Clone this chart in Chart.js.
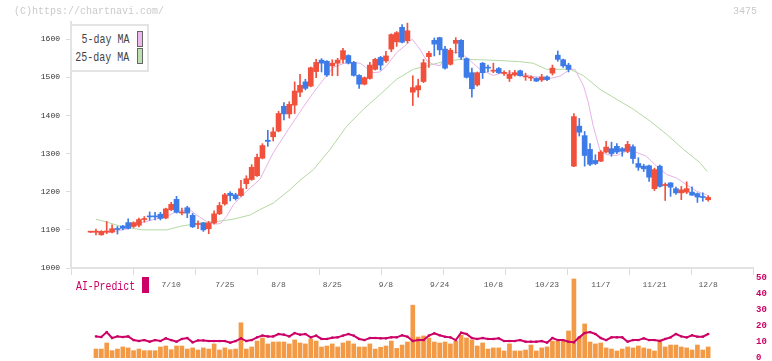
<!DOCTYPE html>
<html>
<head>
<meta charset="utf-8">
<script src="https://cdn.jsdelivr.net/npm/chart.js@4.4.0/dist/chart.umd.min.js"></script>
<style>
  html, body { margin: 0; padding: 0; background: #fff; }
  #wrap { position: relative; width: 772px; height: 361px; overflow: hidden; }
  #wrap canvas { position: absolute; left: 0; top: 0; }
  .txt { position: absolute; font-family: "Liberation Mono", "DejaVu Sans Mono", monospace; white-space: nowrap; }
  .sw { position: absolute; box-sizing: border-box; }
</style>
</head>
<body>
<div id="wrap">
  <canvas id="main" width="772" height="361"></canvas>
  <canvas id="sub" width="772" height="370"></canvas>

  <div class="txt" style="left:14px;top:6px;font-size:10px;color:#cacaca;">(C)https://chartnavi.com/</div>
  <div class="txt" style="right:15px;top:6px;font-size:10px;color:#cacaca;">3475</div>

  <!-- MA legend -->
  <div class="sw" style="left:70px;top:24px;width:79px;height:48px;border:2px solid #e4e4e4;background:#fff;"></div>
  <div class="txt" style="right:643px;top:33px;font-size:13px;line-height:13px;color:#444;transform:scaleX(0.767);transform-origin:right top;">5-day MA</div>
  <div class="txt" style="right:643px;top:51px;font-size:13px;line-height:13px;color:#444;transform:scaleX(0.767);transform-origin:right top;">25-day MA</div>
  <div class="sw" style="left:137px;top:31px;width:6px;height:16px;border:1px solid #666;background:#ebb9eb;"></div>
  <div class="sw" style="left:137px;top:48px;width:6px;height:16px;border:1px solid #666;background:#bde0b0;"></div>

  <!-- AI legend -->
  <div class="txt" style="left:76px;top:281px;font-size:12px;line-height:12px;color:#cc0066;transform:scaleX(0.82);transform-origin:left top;">AI-Predict</div>
  <div class="sw" style="left:142px;top:277px;width:7px;height:16px;background:#cc0066;"></div>
</div>

<script>
// DAILY PRICES (index 0 = first day shown)
const open = [1094,1094,1087,1094,1094,1103,1110,1119,1109,1112,1127,1136,1136,1141,1131,1153,1180,1144,1158,1138,
  1114,1118,1103,1118,1142,1168,1196,1192,1190,1221,1232,1242,1288,1335,1344,1359,1424,1404,1427,1461,
  1488,1477,1515,1545,1542,1530,1537,1547,1557,1539,1505,1482,1497,1521,1552,1543,1574,1593,1631,1596,
  1461,1467,1489,1554,1597,1604,1574,1534,1589,1597,1549,1512,1480,1537,1526,1516,1523,1510,1497,1506,
  1517,1501,1498,1497,1493,1501,1511,1558,1546,1532,1267,1372,1347,1311,1282,1280,1304,1313,1319,1313,
  1306,1318,1274,1267,1268,1208,1267,1216,1223,1208,1197,1199,1199,1195,1187,1179];
const high = [1095,1102,1098,1122,1113,1109,1112,1129,1121,1131,1135,1147,1146,1146,1157,1172,1188,1157,1162,1143,
  1124,1120,1122,1150,1172,1196,1200,1196,1230,1242,1271,1299,1326,1361,1368,1411,1434,1436,1488,1508,
  1495,1527,1547,1549,1544,1546,1550,1576,1559,1542,1507,1501,1539,1550,1555,1568,1614,1620,1638,1642,
  1504,1495,1547,1568,1603,1605,1581,1576,1604,1599,1551,1524,1514,1539,1532,1537,1526,1517,1518,1518,
  1519,1511,1504,1499,1508,1504,1532,1569,1548,1537,1405,1392,1358,1326,1297,1308,1332,1330,1326,1316,
  1332,1323,1289,1272,1270,1262,1270,1223,1224,1212,1214,1226,1213,1197,1197,1190];
const low = [1093,1087,1086,1090,1092,1089,1100,1102,1106,1108,1120,1125,1126,1126,1129,1150,1144,1139,1132,1106,
  1103,1096,1090,1115,1140,1165,1176,1178,1188,1208,1230,1240,1286,1319,1333,1357,1388,1393,1405,1449,
  1467,1475,1499,1514,1502,1504,1504,1537,1535,1503,1471,1480,1495,1519,1519,1539,1567,1581,1590,1590,
  1426,1448,1486,1526,1556,1559,1521,1532,1563,1547,1498,1448,1477,1497,1514,1512,1510,1505,1489,1503,
  1503,1492,1491,1489,1489,1491,1506,1542,1526,1514,1266,1346,1267,1268,1271,1279,1302,1293,1300,1293,
  1302,1274,1256,1253,1227,1203,1212,1177,1188,1193,1179,1195,1190,1172,1175,1175];
const close = [1094,1095,1096,1097,1103,1101,1104,1104,1119,1127,1129,1134,1134,1130,1155,1167,1146,1147,1144,1108,
  1116,1100,1118,1142,1164,1192,1190,1182,1208,1234,1264,1290,1321,1332,1357,1405,1404,1429,1464,1479,
  1471,1525,1539,1537,1506,1537,1545,1570,1537,1505,1482,1499,1532,1547,1532,1556,1612,1617,1592,1622,
  1473,1478,1538,1563,1587,1572,1524,1571,1597,1553,1500,1470,1512,1512,1524,1518,1512,1513,1508,1512,
  1504,1503,1500,1490,1501,1494,1524,1547,1530,1521,1397,1356,1295,1272,1274,1304,1317,1300,1304,1306,
  1324,1287,1264,1260,1238,1258,1214,1219,1212,1197,1205,1208,1191,1186,1185,1185];

// MOVING AVERAGES (day position, price)
const ma5Day = [0,3.6,6.7,9.2,12.3,14.2,16,18.5,19.7,21.6,23.5,24.3,25.3,26.6,29,31.5,34,36.8,39.5,41.5,
  43.4,45.2,47.7,50.2,51.7,52.6,53.9,55.1,57,58.5,59.9,61.3,62.6,63.8,65.1,65.7,66.9,68.8,70,72.5,
  75,76.2,78.7,82.4,85.5,87.4,89.3,90.2,91.8,92.7,93.6,94.9,96.1,98,99.8,101.1,103.5,105.4,107.3,109.1,
  111,112.9,114.7];
const ma5Val = [1094,1094,1102,1118,1129,1135,1148,1153,1139,1122,1115,1118,1135,1166,1201,1232,1302,1363,1420,1460,
  1495,1526,1539,1537,1521,1512,1514,1530,1565,1582,1600,1574,1543,1534,1530,1547,1565,1565,1552,1521,
  1505,1510,1512,1502,1497,1503,1521,1521,1477,1433,1372,1306,1297,1295,1306,1306,1293,1267,1245,1236,
  1218,1201,1192];
const ma25Day = [1,3.6,6.1,9.8,14.2,16.6,20.3,23.5,26.6,29.7,31.5,34,37.1,39,41.5,44.6,47.7,50.8,53.9,57,
  60.1,62.6,65.1,68.8,72.5,76.2,79.9,82.4,84.9,89.3,91.8,94.9,98,101.1,104.2,107.3,110.4,113.5,114.8];
const ma25Val = [1128,1118,1107,1100,1100,1109,1118,1122,1128,1139,1153,1170,1205,1230,1258,1311,1372,1416,1455,1495,
  1521,1530,1539,1547,1546,1544,1541,1537,1521,1521,1504,1468,1442,1416,1385,1350,1311,1276,1253];

// VOLUME AND AI-PREDICT (from day 1 on, right-axis units)
const volume = [5.6,5.6,9.4,4.6,5.6,6.9,6.3,4.6,5.6,4.6,4.6,4.6,6.9,7.5,5.2,7.5,7.5,5.6,6.3,5.0,
  6.3,5.6,8.8,5.0,6.3,5.2,5.6,22,5.6,6.9,10.6,12.5,8.8,10,10,10,8.8,11.3,9.4,8.8,
  11.9,10.6,6.9,7.5,8.8,6.9,9.4,10.6,8.8,6.9,6.9,8.8,5.6,6.7,7.5,10.6,6.0,8.1,10,33,
  13.1,13.8,12.5,10,9.4,10,8.8,10.6,14.2,12.5,11.3,7.5,9.4,5.6,6.3,6.3,4.4,8.8,4.4,4.4,
  5.0,8.1,4.4,6.3,6.9,10.6,10.6,10.6,16.9,49.4,13.1,21.3,10,8.8,9.4,6.3,5.6,4.4,5.6,6.9,
  6.3,7.5,6.3,5.6,4.4,11.3,6.9,8.1,8.1,6.9,6.3,5.0,8.1,5.0,6.9];
const aiPredict = [13.5,13.1,16.2,12.5,13.5,13.1,13.5,11.2,10.6,11.2,10.2,11.2,10.6,12.3,11.2,10.2,11.9,12.5,9.8,11.0,
  11.0,10.6,10.6,10.6,10.6,9.6,10.6,12.3,10.6,11.2,12.9,14.0,13.5,13.5,15.0,14.6,13.5,15.6,14.6,15.0,
  12.9,14.0,11.9,11.9,12.7,12.9,14.0,15.0,14.0,11.9,11.2,12.5,12.5,12.3,12.3,12.9,12.9,14.2,13.3,10.6,
  11.2,11.2,14.0,15.4,14.2,13.3,12.9,11.2,15.8,15.0,12.5,11.9,12.5,11.9,11.9,12.3,10.6,10.6,10.6,11.2,
  10.2,10.2,10.2,10.6,9.6,12.5,11.2,11.2,10.2,9.8,12.9,15.6,16.2,15.0,12.5,11.2,12.9,12.9,12.9,10.2,
  11.2,11.2,12.3,11.2,11.2,10.6,11.9,12.9,15.0,13.5,12.9,14.2,13.3,13.3,15.0];

// AXIS LABELS
const tickDates = ["7/10","7/25","8/8","8/25","9/8","9/24","10/8","10/23","11/7","11/21","12/8"];
const tickDays = [15,25,35,45,55,65,75,85,95,105,115];
const priceTicks = [1000,1100,1200,1300,1400,1500,1600];
const aiTicks = [0,10,20,30,40,50];

const UP = "#f0503c", DOWN = "#3d7be8";
const X_MIN = -3.65, X_MAX = 123.35;
const tickFont = { family: "Liberation Mono", size: 8 };

const candleColors = open.map((o, i) => (close[i] >= o ? UP : DOWN));

// MAIN PRICE CHART
new Chart(document.getElementById("main"), {
  type: "bar",
  data: {
    datasets: [
      {
        type: "line", label: "25-day MA",
        data: ma25Day.map((d, k) => ({ x: d, y: ma25Val[k] })),
        borderColor: "#b3d9a3", borderWidth: 1, pointRadius: 0, order: 5,
      },
      {
        type: "line", label: "5-day MA",
        data: ma5Day.map((d, k) => ({ x: d, y: ma5Val[k] })),
        borderColor: "#e6b3e6", borderWidth: 1, pointRadius: 0, order: 4,
      },
      {
        label: "wick",
        data: low.map((l, i) => ({ x: i, y: [l, high[i]] })),
        backgroundColor: candleColors, barThickness: 1, grouped: false, order: 3,
      },
      {
        label: "body",
        data: open.map((o, i) => ({ x: i, y: [o, close[i]] })),
        backgroundColor: candleColors, barThickness: 5, minBarLength: 1, grouped: false, order: 2,
      },
    ],
  },
  options: {
    responsive: false,
    animation: false,
    layout: { padding: { top: 22, right: 19, left: 0, bottom: 0 } },
    plugins: { legend: { display: false }, tooltip: { enabled: false } },
    scales: {
      y: {
        type: "linear", position: "left", min: 1000, max: 1645,
        afterFit(s) { s.width = 71; },
        afterBuildTicks(s) { s.ticks = priceTicks.map((v) => ({ value: v })); },
        grid: { drawOnChartArea: false, tickLength: 5, color: "#dcdcdc" },
        border: { color: "#e2e2e2", width: 2 },
        ticks: { padding: 6, color: "#333", font: tickFont, callback: (v) => String(v) },
      },
      x: {
        type: "linear", position: "bottom", min: X_MIN, max: X_MAX, offset: false, weight: 0,
        afterFit(s) { s.height = 7; },
        afterBuildTicks(s) {
          const step = (s.max - s.min) / 11;
          s.ticks = Array.from({ length: 12 }, (_, k) => ({ value: s.min + k * step }));
        },
        grid: { drawOnChartArea: false, tickLength: 7, color: "#dcdcdc", offset: false },
        border: { color: "#e2e2e2", width: 2 },
        ticks: { display: false },
      },
      xd: {
        type: "linear", position: "bottom", min: X_MIN, max: X_MAX, offset: false, weight: 1,
        afterFit(s) { s.height = 86; },
        afterBuildTicks(s) { s.ticks = tickDays.map((v) => ({ value: v })); },
        grid: { display: false, drawTicks: false },
        border: { display: false },
        ticks: {
          padding: 5, autoSkip: false, maxRotation: 0, color: "#555", font: tickFont,
          callback: (v, k) => tickDates[k],
        },
      },
    },
  },
});

// VOLUME + AI-PREDICT
new Chart(document.getElementById("sub"), {
  type: "bar",
  data: {
    datasets: [
      {
        type: "line", label: "AI-Predict", yAxisID: "y",
        data: aiPredict.map((v, k) => ({ x: k + 1, y: v })),
        borderColor: "#cc0066", borderWidth: 2, pointStyle: "rect", pointRadius: 1.6,
        pointBackgroundColor: "#cc0066", pointBorderWidth: 0, order: 1,
      },
      {
        label: "Volume", yAxisID: "yv",
        data: volume.map((v, k) => ({ x: k + 1, y: v })),
        backgroundColor: "#f29a45", barThickness: 4, order: 2,
      },
    ],
  },
  options: {
    responsive: false,
    animation: false,
    layout: { padding: { left: 71, top: 278, right: 0, bottom: 12 } },
    plugins: { legend: { display: false }, tooltip: { enabled: false } },
    scales: {
      x: { type: "linear", display: false, min: X_MIN, max: X_MAX, offset: false },
      yv: { display: false, min: 0, max: 50 },
      y: {
        position: "right", min: 0, max: 50,
        afterFit(s) { s.width = 19; },
        afterBuildTicks(s) { s.ticks = aiTicks.map((v) => ({ value: v })); },
        grid: { display: false, drawTicks: false },
        border: { display: false },
        ticks: {
          padding: 3, color: "#cc0066", callback: (v) => String(v),
          font: { family: "Liberation Mono", size: 9, weight: "bold" },
        },
      },
    },
  },
});
</script>
</body>
</html>
